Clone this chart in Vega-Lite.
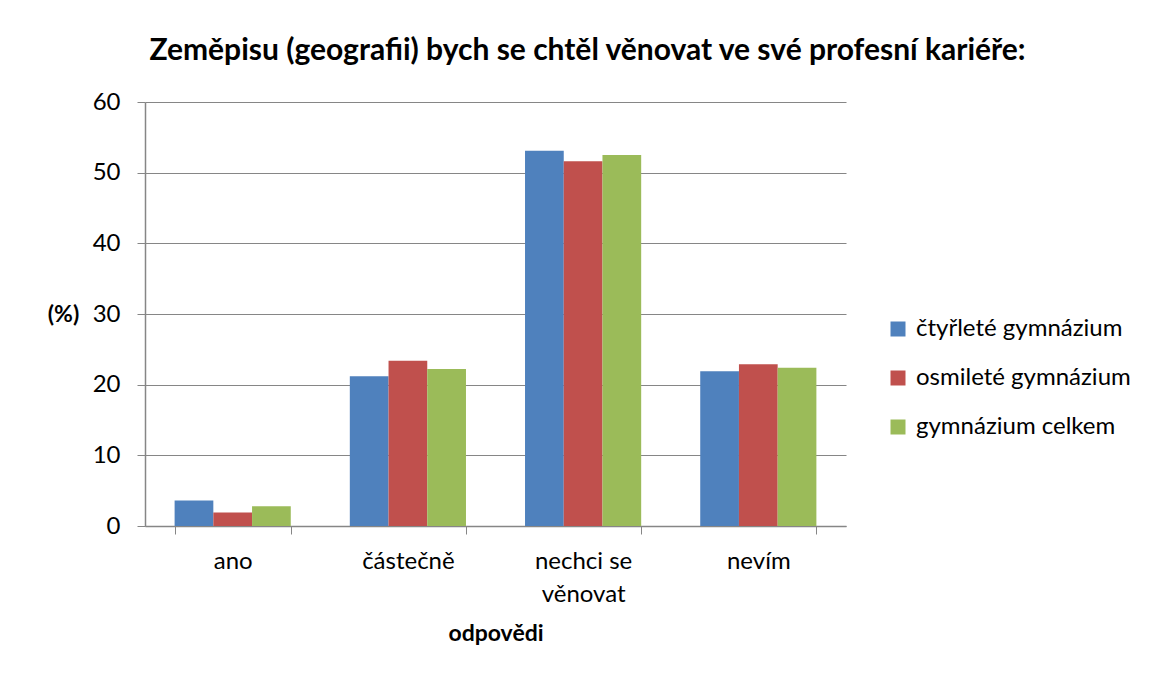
{
  "$schema": "https://vega.github.io/schema/vega-lite/v6.json",
  "autosize": "none",
  "width": 701,
  "height": 424,
  "padding": {"left": 145, "top": 102, "right": 303, "bottom": 149},
  "background": "white",
  "config": {
    "font": "Lato",
    "view": {"stroke": null}
  },
  "title": {
    "text": "Zeměpisu (geografii) bych se chtěl věnovat ve své profesní kariéře:",
    "anchor": "middle",
    "dx": 92,
    "fontSize": 30,
    "fontWeight": "bold",
    "font": "Lato",
    "color": "#000000",
    "offset": 24
  },
  "data": {
    "values": [
      {"odpoved": "ano", "skupina": "čtyřleté gymnázium", "hodnota": 3.6},
      {"odpoved": "ano", "skupina": "osmileté gymnázium", "hodnota": 1.9},
      {"odpoved": "ano", "skupina": "gymnázium celkem", "hodnota": 2.8},
      {"odpoved": "částečně", "skupina": "čtyřleté gymnázium", "hodnota": 21.2},
      {"odpoved": "částečně", "skupina": "osmileté gymnázium", "hodnota": 23.4},
      {"odpoved": "částečně", "skupina": "gymnázium celkem", "hodnota": 22.2},
      {"odpoved": "nechci se věnovat", "skupina": "čtyřleté gymnázium", "hodnota": 53.1},
      {"odpoved": "nechci se věnovat", "skupina": "osmileté gymnázium", "hodnota": 51.6},
      {"odpoved": "nechci se věnovat", "skupina": "gymnázium celkem", "hodnota": 52.5},
      {"odpoved": "nevím", "skupina": "čtyřleté gymnázium", "hodnota": 21.9},
      {"odpoved": "nevím", "skupina": "osmileté gymnázium", "hodnota": 22.9},
      {"odpoved": "nevím", "skupina": "gymnázium celkem", "hodnota": 22.4}
    ]
  },
  "mark": {"type": "bar"},
  "encoding": {
    "x": {
      "field": "odpoved",
      "type": "nominal",
      "sort": ["ano", "částečně", "nechci se věnovat", "nevím"],
      "scale": {"paddingInner": 0.337, "paddingOuter": 0.169},
      "axis": {
        "title": "odpovědi",
        "titleFontSize": 23,
        "titleFontWeight": "bold",
        "titleColor": "#000000",
        "titlePadding": 16,
        "labelAngle": 0,
        "labelFontSize": 24,
        "labelColor": "#000000",
        "labelPadding": 15,
        "labelLineHeight": 33,
        "labelExpr": "datum.value == 'nechci se věnovat' ? ['nechci se', 'věnovat'] : datum.value",
        "tickBand": "extent",
        "tickColor": "#868686",
        "tickSize": 8,
        "domainColor": "#868686",
        "domainWidth": 1.5,
        "grid": false
      }
    },
    "xOffset": {
      "field": "skupina",
      "type": "nominal",
      "sort": ["čtyřleté gymnázium", "osmileté gymnázium", "gymnázium celkem"],
      "scale": {"paddingInner": 0, "paddingOuter": 0}
    },
    "y": {
      "field": "hodnota",
      "type": "quantitative",
      "scale": {"domain": [0, 60], "nice": false},
      "axis": {
        "title": "(%)",
        "titleAngle": 0,
        "titleFontSize": 23,
        "titleFontWeight": "bold",
        "titleColor": "#000000",
        "titleX": -82,
        "titleY": 212,
        "titleAlign": "center",
        "titleBaseline": "middle",
        "values": [0, 10, 20, 30, 40, 50, 60],
        "labelFontSize": 24,
        "labelColor": "#000000",
        "labelPadding": 17,
        "tickColor": "#868686",
        "tickSize": 8,
        "domainColor": "#868686",
        "domainWidth": 1.5,
        "gridColor": "#868686",
        "gridWidth": 1.2
      }
    },
    "color": {
      "field": "skupina",
      "type": "nominal",
      "sort": ["čtyřleté gymnázium", "osmileté gymnázium", "gymnázium celkem"],
      "scale": {
        "domain": ["čtyřleté gymnázium", "osmileté gymnázium", "gymnázium celkem"],
        "range": ["#4F81BD", "#C0504D", "#9BBB59"]
      },
      "legend": {
        "title": null,
        "orient": "none",
        "legendX": 741,
        "legendY": 215,
        "symbolType": "square",
        "symbolSize": 225,
        "symbolStrokeWidth": 0,
        "labelFontSize": 24,
        "labelColor": "#000000",
        "labelOffset": 6,
        "labelLimit": 400,
        "rowPadding": 25
      }
    }
  }
}
